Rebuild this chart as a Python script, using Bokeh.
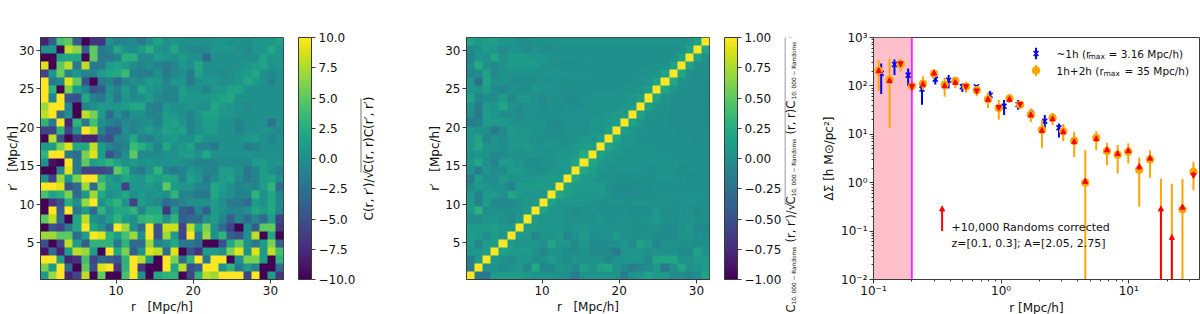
import math
import numpy as np
from bokeh.embed import file_html
from bokeh.resources import INLINE
from bokeh.layouts import row
from bokeh.plotting import figure
from bokeh.palettes import Viridis256
from bokeh.models import (Range1d, LinearColorMapper, ColorBar, FixedTicker, Label, BoxAnnotation,
                          Span, Arrow, NormalHead, ColumnDataSource)

# left panel: C(r,r')/sqrt(C(r,r)C(r',r')), top row first
corr_left = [
[-8,-4,4,5,-4,-10,-7,-7,0,-1,-1,-0.5,-2,0,1.5,0,0.5,0,0,0,0,0.5,0.5,0,0,0,0.5,0.5,0.5,1.5],
[0,0.5,-10,8,6.5,-4,5,-2,-1,2,0,-0.5,1,2.5,0.5,0,2,0,-0.5,-1,-0.5,0.5,0.5,0.5,0,-0.5,0.5,0.5,2,0.5],
[-10,-10,1.5,2,2,-10,5,-2,-2,-1,2.5,2.5,-0.5,-0.5,1,0.5,0,1,0,0,-3,0,0,0,0,0,0,1.5,0.5,0.5],
[9,-10,5,8,-2,8,-2,-2,1,1.5,1,-0.5,-1,0,-1,-2,-1,0.5,0,2,0,0,0,0,0,0.5,1,1.5,0,0.5],
[-6,0.5,5.5,-1,0.5,-1,-1,1,2,2,3.5,-1,-1.5,-1.5,0,-2,-0.5,0,-1.5,1.5,0,0,-0.5,0,0.5,1,2,0,-0.5,0],
[10,-2,-1,9,5,-5,-10,-2,-1,-3,-1,0,-0.5,1,0.5,-1,0.5,0.5,-2,0,0.5,0.5,0,0,0.5,2,1,0,-1,0],
[10,3,-10,6,1,-1,-5,-4,0,-1,1,-1,2,0.5,0,-1,-1,1,0,0,-1,0.5,0.5,1.5,1.5,0,0,0,0,0],
[10,-1,10,-5,-5,2,-1,-2,0.5,-2,0.5,-0.5,0,1,-0.5,-1,-1,1,0.5,0.5,0.5,1,1.5,2,0,0,0,0,0,0],
[7,10,10,-1,-10,-1,0,1,0.5,0.5,1,2,2,-1,-1.5,0.5,0,0,0.5,0,0,2,1,0.5,0,-0.5,0,0,0,0],
[8,10,-3,0,-10,8,6,1,-3,0,-2,0,0,-1,-1,1,0.5,0,-1,0.5,1.5,1.5,0.5,0.5,0,0,0,0,0,0],
[3,-2,10,-8,3,-2,4,0,-1,-2,-0.5,-1,-0.5,0,-1,1,1.5,0.5,-1,0,1,1,0,0,-1,0,0,0,-2.5,0],
[-6,-6,3,-6,0,10,8,-1,-4,-4,0,-1,0,1,0,1.5,1,1.5,-1,0,1,1,0,0,-1,0,0,0.5,0,-0.5],
[-10,8,-5,-10,-7,-8,-8,-4,-5,-1,-0.5,2,-1,-1.5,0,0.5,1,0,0,1.5,0,0,0,0,0,0.5,1,0,-1,0],
[1,1,6,9,2,2,8,1,-1,-2,-1,3.5,2.5,1,-1,2,0,0.5,1.5,-1,-1,-2,0,0,0,-1.5,-1,0,0,0],
[3,10,10,-2,-3,6,9,1,-5,-2.5,0,5,-0.5,-0.5,-0.5,0,0,1,1,0,2,0,0,0,0,0,0,0,0,0],
[0,-9,-10,10,-2,5,1,2,3,1.5,0,1,0,0.5,0,0,0.5,0,-0.5,-1,-1,-1,-0.5,-0.5,-0.5,-0.5,1,1,0,0.5],
[-10,-10,-0.5,9,-2,-6,-6,-6,-5,5,3,-1,-2,0,3,-1,-2,-1,0.5,0,-1,-1,1,1,0,-2,-1,1,0,-1],
[0,-6,7,0.5,6,10,10,3,1,0,2,1,0.5,2,1,2,1.5,-1,1.5,0.5,-2,-0.5,1,1.5,-0.5,-2,-1,1,1.5,0],
[10,10,9,-5,-3,7,-3,5,1,1,-6,0.5,0.5,1,0,5,1,0.5,0.5,-1,-1,2,1,0,-1,-0.5,-1,1,3,-3],
[4,1.5,2.5,6,-3,0.5,7,2,0,0.5,2,0,1,0,0.5,0,3,-1,-1,-2,-2,2,0.5,0,-1,-1,3,0,2,-1],
[-10,-7,-5,2.5,0,7,10,0,2,3,0,-6,1,0,-0.5,-3,-2,-1,0,0,0,1,0,-2,-2,-3,1,0,2,-0.5],
[-10,10,-4,10,-2,1,-3,3,0,2,2,3,-1,2,2,-7,0.5,-4,-5,-1,-4,1,0,-1,-1,0,2,1,2,-1],
[5,8,-3,-10,2,8,0,-1,1,3,1,0,3,3.5,3,0,3,-4,-3,-3,0,1,-1,-4,-1,-3,-1,-3,1,-6],
[-10,-5,-6,-2,2,10,2,0,-3,10,7,0,-3,10,-5,8.5,8.5,-6,8,2,6,0,-3,-6,-10,0,-4,5,5,-7],
[7,7,5,5,-3,1,10,9,3,1,4,7,0,10,-5,7,1,-6,10,-2,7,0,3,-4,-5,0,8,-10,2,-10],
[-5,-10,-6,8,1,-4,3,3,3,-2,3,-3,-3,7,-1,0,2,-2,-2,-3,-10,-10,-5,2,5,0,-2,1,6,-4],
[-9,-3,-8,1,8,7,1,-10,10,2,6,-4,0,9,8,-3,9,-10,-5,-7,1,1,0,6,9,0,9,1,8,4],
[10,10,1,-8,-7,4,-6,-3,-4,-5,3,10,8,1,-10,10,6,-3,3,10,-2,10,10,-10,0,6,6,1,-10,3],
[6,1,10,-3,-10,5,-5,9,10,-7,3,10,-7,-10,-10,10,2,8,-5,-4,10,10,0,3,-2,1,-1,-10,-10,-3],
[1,7,10,-8,-6,8,-10,5,-10,-10,4,10,0,-10,2,3,3,-10,-6,3,8,7,10,10,10,-6,10,-10,1,-7],
]

# middle panel, in hundredths of the correlation coefficient, top row first
corr_mid_pct = [
[15,5,12,12,5,5,-2,-2,0,3,3,3,3,3,3,2,2,2,2,2,2,2,2,2,2,2,3,5,15,100],
[-5,0,10,5,-5,3,3,-5,3,-3,-3,0,0,0,0,0,0,0,0,0,0,0,0,0,0,0,3,15,100,18],
[-10,5,0,20,2,10,10,8,5,5,3,0,0,0,2,0,0,0,0,0,0,0,0,0,0,3,15,100,15,3],
[-3,22,3,-5,2,8,8,8,8,3,0,0,-2,-2,0,0,0,0,0,0,0,0,0,0,2,15,100,15,0,-2],
[-10,-3,15,-5,2,2,2,2,0,2,2,2,2,0,2,0,0,0,0,0,0,2,2,5,15,100,18,0,-2,0],
[5,-25,15,3,3,-2,-3,-2,0,0,0,2,0,0,0,0,0,0,0,0,0,2,5,15,100,20,3,0,-2,-2],
[5,2,12,-3,-8,0,-2,-2,5,3,3,0,-2,0,0,0,0,0,0,2,2,5,12,100,18,5,0,-2,-2,-2],
[15,-8,-3,-3,10,-5,5,5,0,-5,3,2,-3,-3,0,2,2,2,2,3,5,12,100,15,3,0,-2,-2,-2,-3],
[3,-15,10,5,18,2,-3,3,0,-3,0,-3,0,-3,0,2,2,2,3,5,10,100,15,5,2,-2,-2,-2,-2,-2],
[0,-20,10,5,-3,0,-5,3,0,-3,0,0,2,2,0,3,3,5,8,10,100,15,3,0,0,-2,-2,-2,-2,-2],
[-18,-10,10,8,8,3,3,3,3,3,-3,-3,2,2,0,5,5,8,12,100,15,5,0,0,0,-2,-2,-2,-2,-2],
[5,0,0,-20,-5,10,3,5,3,0,-2,-2,2,0,0,5,5,12,100,12,5,3,0,0,0,0,-2,-2,-2,-2],
[5,15,-8,3,-3,5,5,3,0,0,0,0,0,3,8,5,12,100,18,5,5,0,0,0,0,0,0,0,-2,0],
[5,20,3,3,-3,5,5,10,3,3,5,3,3,8,12,12,100,18,8,5,3,2,2,0,0,0,0,0,0,0],
[3,5,3,-5,-3,3,3,3,3,3,3,5,5,10,22,100,15,8,5,3,3,2,2,2,2,0,0,0,0,0],
[5,18,0,-10,8,8,5,-3,-3,3,3,8,8,18,100,20,8,5,3,3,2,2,2,2,2,2,0,0,0,0],
[3,-15,5,-3,-3,8,8,3,0,-2,5,5,8,100,20,12,5,3,3,2,2,2,0,0,2,2,-3,0,0,0],
[-18,12,-3,-3,8,3,3,5,5,8,10,10,100,20,8,8,3,3,0,0,0,0,0,2,2,2,0,-3,0,0],
[-5,5,5,0,0,-12,8,8,10,10,10,100,15,10,8,8,8,3,-3,-3,-3,0,-3,0,0,0,0,0,0,0],
[5,-10,8,8,3,20,8,5,5,5,100,20,12,8,5,5,8,3,-3,-3,-3,-3,-2,2,2,2,2,2,2,0],
[8,-12,12,-5,-5,-3,3,5,8,100,15,5,5,5,5,3,3,3,3,3,3,3,3,3,2,0,3,3,3,0],
[8,28,0,0,0,-2,3,8,100,15,5,5,3,-3,3,3,-2,0,0,0,-3,-3,-3,5,-2,-2,0,3,-5,0],
[-3,-3,5,5,3,-3,5,100,8,5,5,5,3,0,3,3,5,0,0,3,0,0,3,8,0,0,3,3,0,0],
[8,8,8,12,5,5,100,8,8,5,5,5,3,5,5,3,3,3,0,3,0,-2,0,3,-3,-3,3,5,-5,-5],
[12,8,-3,12,5,100,8,8,-8,3,3,8,-8,3,8,3,3,0,10,3,0,0,3,-3,-3,-3,3,5,0,-3],
[8,-8,8,12,100,8,5,5,5,0,18,5,5,-3,5,-3,-3,-3,0,5,-3,15,8,-8,3,3,3,3,-3,0],
[5,5,12,100,15,12,8,8,3,-8,3,3,-3,-3,3,-5,-5,-5,-18,5,5,5,0,3,3,0,-5,-3,15,3],
[-15,8,100,5,3,-5,5,5,-3,0,12,3,-3,5,3,3,3,-8,3,5,5,5,-5,18,18,18,3,3,8,10],
[-15,100,3,2,-5,3,5,-8,22,-8,-8,5,3,-5,12,3,15,18,2,-5,-15,-8,-5,8,-20,0,18,3,5,10],
[100,-15,-20,10,10,10,10,5,3,3,3,0,-2,-15,2,3,3,3,3,-15,3,5,15,8,8,-5,-3,-8,-3,15],
]

# right panel
r_full = [0.110,0.1336,0.163,0.200,0.244,0.298,0.361,0.438,0.531,0.644,0.790,0.959,1.163,1.41,1.71,2.09,2.53,3.07,3.74,4.57,5.57,6.76,8.2,9.93,12.1,14.7,17.9,21.8,26.4,32.2]
ds_full = [208,134,281,99,112,181,105,127,97,81,53,35,55,41,25.7,12.4,22,11.6,7.35,1.0,8.5,4.5,3.8,4.35,1.85,3.0,float("nan"),float("nan"),0.28,1.68]
ds_full_hi = [341,368,368,122,159,212,149,154,122,100,73,51,68,48,34,20,28,16.3,11.3,4.7,11.6,6.7,6,6.5,3.3,4.7,1.2,0.95,1.2,2.7]
ds_full_lo = [78,13.6,195,75,82,142,60,91,72,61,35,20,45,36,18,5.3,15.5,7.2,3.4,0.001,4.7,2.3,1.55,2.5,0.32,1.27,0.001,0.001,0.001,0.7]
ds_corrected = [237,149,248,84,125,212,116,136,84,68,61,31,61,36,29,13.9,24,13,8.1,1.23,9.3,5.5,4.6,5.3,2.5,3.7,0.33,0.085,0.36,1.23]
ds_arrow_start = [208,134,281,99,112,181,105,127,97,81,53,35,55,41,25.7,12.4,22,11.6,7.35,1.0,8.5,4.5,3.8,4.35,1.85,3.0,0.01,0.01,0.28,1.68]

r_1h = [0.1149,0.146,0.187,0.240,0.305,0.388,0.497,0.640,0.820,1.056,1.36,1.73,2.20,2.84]
ds_1h = [181,277,167,86,138,131,96,96,64,38,41,27,18.7,13.6]
ds_1h_hi = [290,351,229,122,167,167,112,104,78,51,51,33,25,16.8]
ds_1h_lo = [68,167,100,41,107,88,75,75,51,25,32,21,13.2,8.6]

FONT = "DejaVu Sans"
TICK = "12px"
SPINE = "#3a3a3a"
UP = math.pi / 2
R_LOW, R_HIGH = 0.2, 31.7


def style(p):
    p.grid.visible = False
    p.outline_line_color = SPINE
    p.outline_line_width = 1
    for ax in (p.xaxis[0], p.yaxis[0]):
        ax.major_label_text_font = FONT
        ax.major_label_text_font_size = TICK
        ax.major_label_text_color = "#111111"
        ax.axis_label_text_font = FONT
        ax.axis_label_text_font_size = TICK
        ax.axis_label_text_font_style = "normal"
        ax.axis_label_text_color = "#111111"
        ax.major_tick_in = 0
        ax.major_tick_out = 4
        ax.minor_tick_in = 0
        ax.axis_line_color = SPINE
        ax.major_tick_line_color = SPINE
        ax.minor_tick_line_color = SPINE
        ax.major_label_standoff = 2


def text(p, s, x, y, size=12.0, angle=0.0, align="left", baseline="middle", color="#111111"):
    """x, y are canvas pixels of this figure."""
    p.add_layout(Label(x=x, y=y, x_units="canvas", y_units="canvas", text=s, text_font=FONT,
                       text_font_size=f"{size}px", angle=angle, text_align=align,
                       text_baseline=baseline, text_color=color))


def overline(p, left, right, top, bottom):
    p.add_layout(BoxAnnotation(left=left, right=right, top=top, bottom=bottom, left_units="canvas",
                               right_units="canvas", top_units="canvas", bottom_units="canvas",
                               fill_color="#777777", fill_alpha=1, line_color=None))


def label_strip(width):
    """A figure whose frame is the whole canvas: colour-bar labels live here."""
    s = figure(frame_width=width, frame_height=314, min_border=0, toolbar_location=None, output_backend="svg",
               x_range=Range1d(0, width), y_range=Range1d(0, 314))
    s.axis.visible = False
    s.grid.visible = False
    s.outline_line_color = None
    return s


def heatmap(matrix, low, high, cb_ticks, cb_labels, left_border, total_width, ylabel_standoff):
    p = figure(frame_width=243, frame_height=242, min_border_left=left_border,
               min_border_right=total_width - left_border - 243,
               min_border_top=37, min_border_bottom=35, toolbar_location=None, output_backend="svg",
               x_range=Range1d(R_LOW, R_HIGH), y_range=Range1d(R_LOW, R_HIGH))
    mapper = LinearColorMapper(palette=Viridis256, low=low, high=high)
    arr = np.array(matrix, dtype=float)[::-1]
    p.image(image=[arr], x=R_LOW, y=R_LOW, dw=R_HIGH - R_LOW, dh=R_HIGH - R_LOW, color_mapper=mapper)
    style(p)
    p.xaxis[0].ticker = FixedTicker(ticks=[10, 20, 30])
    p.yaxis[0].ticker = FixedTicker(ticks=[5, 10, 15, 20, 25, 30])
    p.xaxis[0].axis_label = "r\u00a0\u00a0\u00a0[Mpc/h]"
    p.xaxis[0].axis_label_standoff = 2
    p.yaxis[0].axis_label = "r\u2032\u00a0\u00a0\u00a0[Mpc/h]"
    p.yaxis[0].axis_label_standoff = ylabel_standoff
    cb = ColorBar(color_mapper=mapper, width=13, height=242, padding=0, location=(15, 0),
                  ticker=FixedTicker(ticks=cb_ticks),
                  major_label_overrides=dict(zip(cb_ticks, cb_labels)),
                  major_label_text_font=FONT, major_label_text_font_size=TICK,
                  major_label_text_color="#111111", major_tick_in=0, major_tick_out=4,
                  major_tick_line_color=SPINE, minor_tick_line_color=None, bar_line_color=SPINE,
                  label_standoff=3)
    p.add_layout(cb, "right")
    return p


# ----- left
p1 = heatmap(corr_left, -10, 10, [-10, -7.5, -5, -2.5, 0, 2.5, 5, 7.5, 10],
             ["\u221210.0", "\u22127.5", "\u22125.0", "\u22122.5", "0.0", "2.5", "5.0", "7.5", "10.0"], 40, 357, -4)
s1 = label_strip(51)   # page x 357..408
text(s1, "C(r, r\u2032)/\u221a", 10, 220, angle=UP)
text(s1, "C(r, r)C(r\u2032, r\u2032)", 10, 172, angle=UP)
overline(s1, 2, 3, 98, 172)

# ----- middle
corr_mid = [[v / 100 for v in row_] for row_ in corr_mid_pct]
p2 = heatmap(corr_mid, -1, 1, [-1, -0.75, -0.5, -0.25, 0, 0.25, 0.5, 0.75, 1],
             ["\u22121.00", "\u22120.75", "\u22120.50", "\u22120.25", "0.00", "0.25", "0.50", "0.75", "1.00"], 57, 375, 0)
s2 = label_strip(25)   # page x 783..808
SUB = "10, 000 \u2212 Randoms"
mx, sx = 6, 9
MAIN = 11.5
text(s2, "C", mx, 312, size=MAIN, angle=UP)
text(s2, SUB, sx, 304, size=5.8, angle=UP)
text(s2, "(r, r\u2032)/\u221a", mx, 242, size=MAIN, angle=UP)
text(s2, "C", mx, 204, size=MAIN, angle=UP)
text(s2, SUB, sx, 196, size=5.8, angle=UP)
text(s2, "(r, r)C", mx, 134, size=MAIN, angle=UP)
text(s2, SUB, sx, 99, size=5.8, angle=UP)
text(s2, "(r\u2032, r\u2032)", mx, 38, size=MAIN, angle=UP)
overline(s2, 0, 1, 7, 204)

# ----- right (canvas x = page x - 808)
p3 = figure(frame_width=326, frame_height=242, min_border_left=64, min_border_right=2, min_border_top=37,
            min_border_bottom=35, toolbar_location=None, output_backend="svg", x_axis_type="log", y_axis_type="log",
            x_range=Range1d(0.1, 35.9), y_range=Range1d(0.01, 1000))
style(p3)
p3.xaxis[0].ticker = FixedTicker(ticks=[0.1, 1, 10], minor_ticks=[m * d for d in (0.1, 1, 10) for m in range(2, 10)])
p3.yaxis[0].ticker = FixedTicker(ticks=[0.01, 0.1, 1, 10, 100, 1000],
                                 minor_ticks=[m * d for d in (0.01, 0.1, 1, 10, 100) for m in range(2, 10)])
p3.xaxis[0].major_label_overrides = {0.1: "10\u207b\u00b9", 1: "10\u2070", 10: "10\u00b9"}
p3.yaxis[0].major_label_overrides = {0.01: "10\u207b\u00b2", 0.1: "10\u207b\u00b9", 1: "10\u2070", 10: "10\u00b9",
                                     100: "10\u00b2", 1000: "10\u00b3"}
p3.xaxis[0].minor_tick_out = 2
p3.yaxis[0].minor_tick_out = 2
p3.xaxis[0].major_label_standoff = 0
p3.xaxis[0].axis_label = "r [Mpc/h]"
p3.xaxis[0].axis_label_standoff = 0
p3.yaxis[0].axis_label = "\u0394\u03a3 [h M\u2299/pc\u00b2]"
p3.yaxis[0].axis_label_standoff = 2

p3.add_layout(BoxAnnotation(left=0.1, right=0.2, fill_color="#ffc0cb", fill_alpha=1, line_color=None, level="underlay"))
p3.add_layout(Span(location=0.2, dimension="height", line_color="#ff00ff", line_width=1.5))

p3.segment(r_1h, ds_1h_lo, r_1h, ds_1h_hi, line_color="#0000ee", line_width=2)
p3.scatter(r_1h, ds_1h, marker="x", size=7, line_color="#0000ee", line_width=1.5)
p3.segment(r_full, ds_full_lo, r_full, ds_full_hi, line_color="#ffa500", line_width=2)
p3.scatter(r_full, ds_full, marker="circle", size=7.5, fill_color="#ffa500", line_color="#ffa500")
arrow_src = ColumnDataSource(dict(x0=r_full, y0=ds_arrow_start, x1=r_full, y1=ds_corrected))
p3.add_layout(Arrow(source=arrow_src, x_start="x0", y_start="y0", x_end="x1", y_end="y1", line_color="#ff0000",
                    line_width=2, end=NormalHead(size=5, fill_color="#ff0000", line_color="#ff0000")))

# legend keys and note (keys sit at the reference's legend location)
p3.segment([1.88], [355], [1.88], [615], line_color="#0000ee", line_width=2)
p3.scatter([1.88], [467], marker="x", size=7, line_color="#0000ee", line_width=1.5)
p3.segment([1.88], [158], [1.88], [270], line_color="#ffa500", line_width=2)
p3.scatter([1.88], [208], marker="circle", size=7.5, fill_color="#ffa500", line_color="#ffa500")
p3.add_layout(Arrow(x_start=0.345, y_start=0.1, x_end=0.345, y_end=0.33, line_color="#ff0000", line_width=2,
                    end=NormalHead(size=5, fill_color="#ff0000", line_color="#ff0000")))

text(p3, "~1h (r", 247, 53, size=10.5)
text(p3, "max", 279, 56, size=7.5)
text(p3, "= 3.16 Mpc/h)", 299, 53, size=10.5)
text(p3, "1h+2h (r", 247, 70, size=10.5)
text(p3, "max", 294, 73, size=7.5)
text(p3, "= 35 Mpc/h)", 315, 70, size=10.5)
text(p3, "+10,000 Randoms corrected", 142, 227, size=11)
text(p3, "z=[0.1, 0.3]; A=[2.05, 2.75]", 142, 243, size=11)

out = row(p1, s1, p2, s2, p3, spacing=0)
open("out.html", "w").write(file_html(out, INLINE))
